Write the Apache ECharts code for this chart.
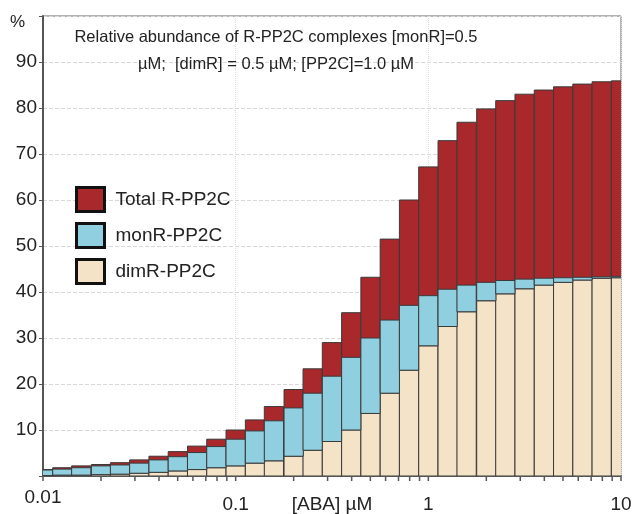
<!DOCTYPE html>
<html>
<head>
<meta charset="utf-8" />
<title>Relative abundance of R-PP2C complexes</title>
<script src="https://cdn.jsdelivr.net/npm/echarts@6.0.0/dist/echarts.min.js"></script>
<style>
  html, body { margin: 0; padding: 0; background: #fff; }
  #main { width: 634px; height: 514px; }
</style>
</head>
<body>
<div id="main"></div>
<script>
// [ABA] (µM) at the middle of every bar
var aba = [0.01, 0.0126, 0.0158, 0.02, 0.0251, 0.0316, 0.0398, 0.0501, 0.0631, 0.0794,
           0.1, 0.126, 0.158, 0.2, 0.251, 0.316, 0.398, 0.501, 0.631, 0.794,
           1, 1.26, 1.58, 2, 2.51, 3.16, 3.98, 5.01, 6.31, 7.94, 10];

// % of receptor
var totalRPP2C = [1.4, 1.8, 2.2, 2.5, 2.9, 3.5, 4.3, 5.3, 6.5, 8.0,
                  10.0, 12.2, 15.1, 18.8, 23.3, 29.0, 35.5, 43.2, 51.5, 60.0,
                  67.2, 72.9, 76.9, 79.8, 81.6, 83.0, 83.9, 84.6, 85.2, 85.7, 85.9];
var monRPP2C = [1.2, 1.3, 1.6, 1.9, 2.0, 2.2, 2.7, 3.1, 3.7, 4.6,
                5.8, 7.0, 8.7, 10.5, 12.4, 14.2, 15.8, 16.4, 15.9, 14.1,
                10.9, 8.1, 5.8, 4.0, 2.9, 2.1, 1.5, 1.0, 0.6, 0.3, 0.3];
var dimRPP2C = [0.1, 0.2, 0.2, 0.3, 0.4, 0.6, 0.8, 1.1, 1.4, 1.8,
                2.2, 2.8, 3.3, 4.3, 5.6, 7.5, 10.0, 13.6, 18.0, 23.0,
                28.3, 32.5, 35.7, 38.1, 39.6, 40.7, 41.5, 42.1, 42.6, 43.0, 43.1];

// small ticks under the log axis
var xTickValues = [0.01, 0.02, 0.03, 0.04, 0.05, 0.06, 0.07, 0.08, 0.09,
                   0.1, 0.2, 0.3, 0.4, 0.5, 0.6, 0.7, 0.8, 0.9,
                   1, 2, 3, 4, 5, 6, 7, 8, 9, 10];

var chart = echarts.init(document.getElementById('main'));

// bars are a tenth of a decade wide, centred on each concentration
var HALF = Math.pow(10, 0.05);

function renderBar(params, api) {
  var x = api.value(0);
  var p0 = api.coord([x / HALF, api.value(2)]);
  var p1 = api.coord([x * HALF, api.value(1)]);
  return {
    type: 'rect',
    shape: { x: p0[0], y: p0[1], width: p1[0] - p0[0], height: p1[1] - p0[1] },
    style: { fill: api.visual('color'), stroke: '#3a3a3a', lineWidth: 1 }
  };
}

function renderTick(params, api) {
  var p = api.coord([api.value(0), 0]);
  return {
    type: 'line',
    shape: { x1: p[0], y1: p[1] + 1, x2: p[0], y2: p[1] + 5 },
    style: { stroke: '#555', lineWidth: 1.5 }
  };
}

var totalData = [], dimData = [], monData = [];
for (var i = 0; i < aba.length; i++) {
  totalData.push([aba[i], 0, totalRPP2C[i]]);
  dimData.push([aba[i], 0, dimRPP2C[i]]);
  monData.push([aba[i], dimRPP2C[i], dimRPP2C[i] + monRPP2C[i]]);
}
var tickData = xTickValues.map(function (v) { return [v, 0]; });

var font = "'Liberation Sans', Arial, sans-serif";

var option = {
  animation: false,
  backgroundColor: '#fff',
  title: {
    text: 'Relative abundance of R-PP2C complexes [monR]=0.5\nµM;  [dimR] = 0.5 µM; [PP2C]=1.0 µM',
    left: 271,
    top: 19,
    textAlign: 'center',
    textStyle: {
      fontFamily: font,
      fontSize: 16.5,
      fontWeight: 'normal',
      color: '#222',
      lineHeight: 27
    }
  },
  legend: {
    orient: 'vertical',
    left: 70,
    top: 181,
    icon: 'rect',
    itemWidth: 28,
    itemHeight: 24,
    itemGap: 9,
    itemStyle: { borderColor: '#111', borderWidth: 3 },
    textStyle: { fontFamily: font, fontSize: 19, color: '#222', padding: [0, 0, 0, 6] },
    data: ['Total R-PP2C', 'monR-PP2C', 'dimR-PP2C']
  },
  grid: {
    left: 43,
    right: 13,
    top: 16,
    bottom: 38,
    outerBoundsMode: 'none',
    containLabel: false,
    show: true,
    borderColor: '#666',
    borderWidth: 1
  },
  xAxis: {
    type: 'log',
    logBase: 10,
    min: 0.01,
    max: 10,
    name: '[ABA] µM',
    nameLocation: 'middle',
    nameGap: 19,
    nameMoveOverlap: false,
    nameTextStyle: { fontFamily: font, fontSize: 19, color: '#222', verticalAlign: 'top' },
    axisLine: { show: true, lineStyle: { color: '#555', width: 2 } },
    axisTick: { show: false },
    axisLabel: {
      fontFamily: font,
      fontSize: 19,
      color: '#222',
      margin: 12,
      formatter: function (v, idx) {
        return idx === 0 ? '{up|' + v + '}' : '{n|' + v + '}';
      },
      rich: {
        up: { fontFamily: font, fontSize: 19, color: '#222' },
        n: { fontFamily: font, fontSize: 19, color: '#222', padding: [7, 0, 0, 0] }
      }
    },
    splitLine: { show: true, lineStyle: { color: '#dcdcdc', type: 'dotted' } }
  },
  yAxis: {
    type: 'value',
    min: 0,
    max: 100,
    interval: 10,
    name: '%',
    nameLocation: 'end',
    nameGap: -6,
    nameTextStyle: { fontFamily: font, fontSize: 17, color: '#222', align: 'right', verticalAlign: 'middle', padding: [0, 18, 0, 0] },
    axisLine: { show: true, lineStyle: { color: '#555', width: 2 } },
    axisTick: { show: true, length: 4, lineStyle: { color: '#555' } },
    axisLabel: {
      fontFamily: font,
      fontSize: 19,
      color: '#222',
      margin: 6,
      formatter: function (v) { return (v === 0 || v === 100) ? '' : v; }
    },
    splitLine: { show: true, lineStyle: { color: '#d8d8d8', type: 'dashed' } }
  },
  series: [
    {
      name: 'Total R-PP2C',
      type: 'custom',
      clip: true,
      itemStyle: { color: '#a8282b' },
      encode: { x: 0, y: [1, 2] },
      renderItem: renderBar,
      data: totalData
    },
    {
      name: 'dimR-PP2C',
      type: 'custom',
      clip: true,
      itemStyle: { color: '#f4e3c6' },
      encode: { x: 0, y: [1, 2] },
      renderItem: renderBar,
      data: dimData
    },
    {
      name: 'monR-PP2C',
      type: 'custom',
      clip: true,
      itemStyle: { color: '#8fcfdf' },
      encode: { x: 0, y: [1, 2] },
      renderItem: renderBar,
      data: monData
    },
    {
      name: 'ticks',
      type: 'custom',
      silent: true,
      clip: false,
      encode: { x: 0, y: 1 },
      renderItem: renderTick,
      data: tickData
    }
  ]
};

chart.setOption(option);
</script>
</body>
</html>
